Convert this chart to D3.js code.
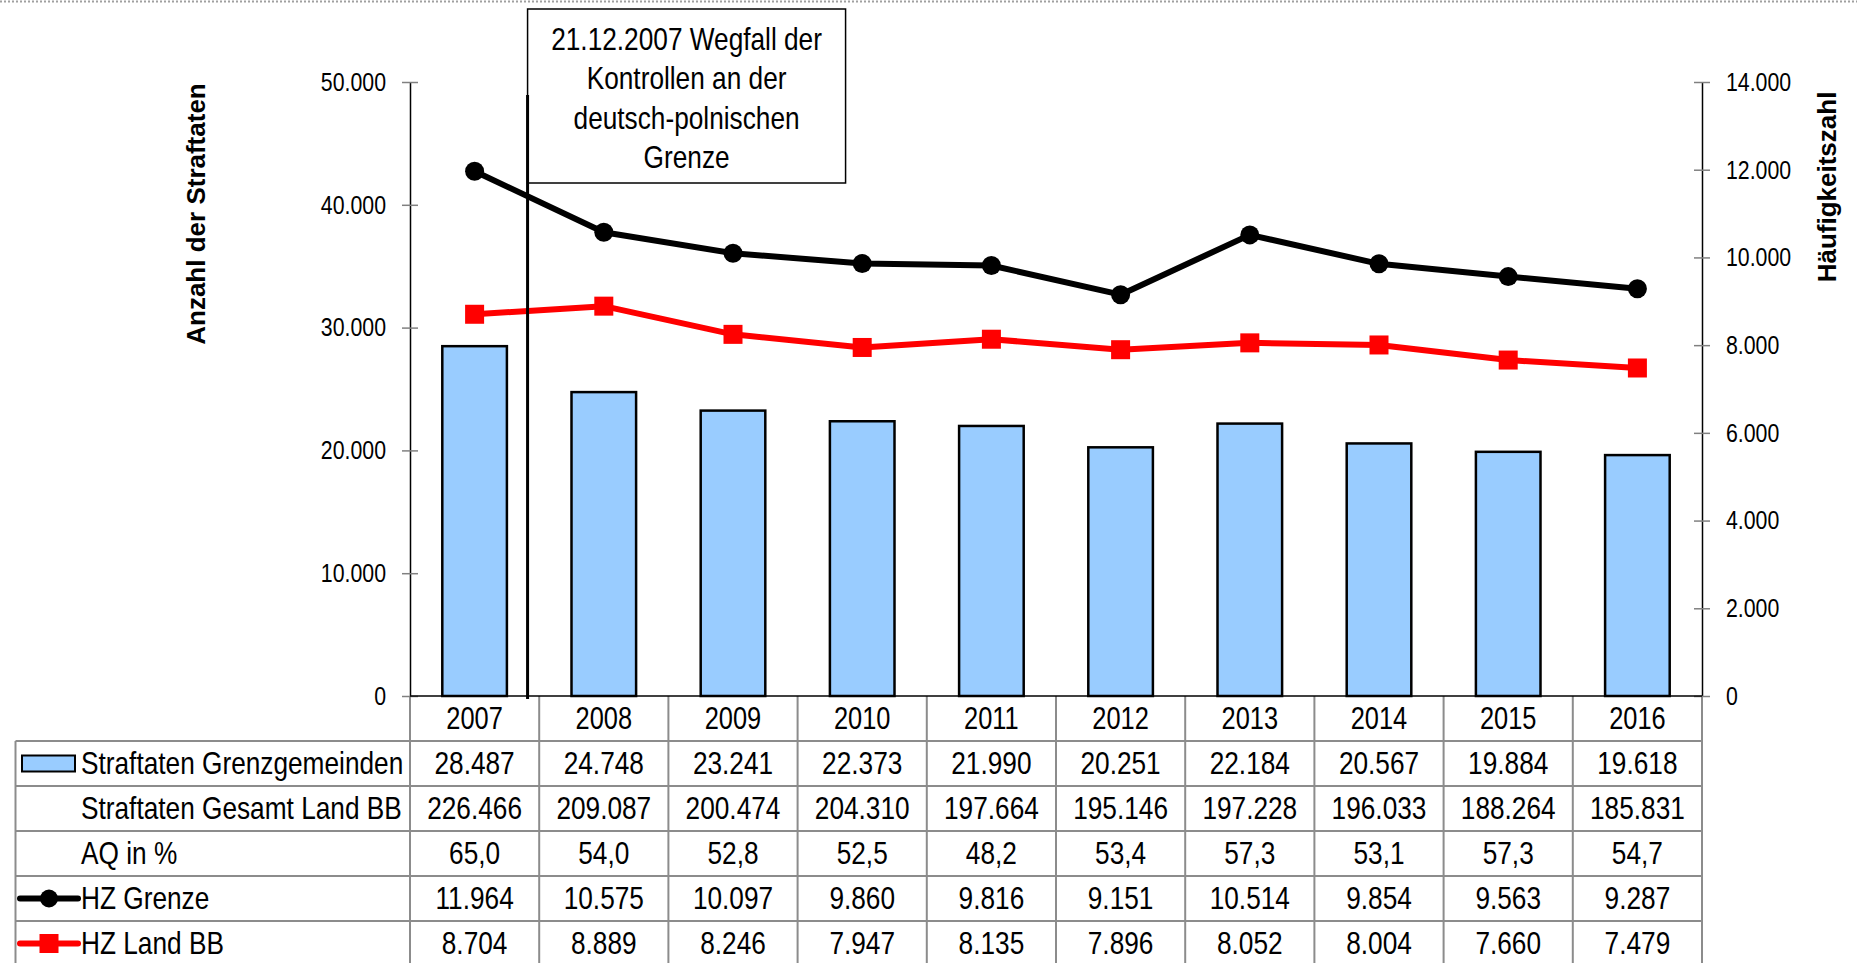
<!DOCTYPE html>
<html>
<head>
<meta charset="utf-8">
<script src="https://cdn.jsdelivr.net/npm/d3@7"></script>
<style>
  body { margin: 0; background: #fff; }
  svg { display: block; font-family: "Liberation Sans", Arial, sans-serif; }
</style>
</head>
<body>
<svg id="chart" width="1857" height="963"></svg>
<script>
// Daten
var years = ["2007", "2008", "2009", "2010", "2011", "2012", "2013", "2014", "2015", "2016"];
var straftatenGrenz = [28487, 24748, 23241, 22373, 21990, 20251, 22184, 20567, 19884, 19618];
var straftatenGesamt = [226466, 209087, 200474, 204310, 197664, 195146, 197228, 196033, 188264, 185831];
var aqProzent = [65.0, 54.0, 52.8, 52.5, 48.2, 53.4, 57.3, 53.1, 57.3, 54.7];
var hzGrenze = [11964, 10575, 10097, 9860, 9816, 9151, 10514, 9854, 9563, 9287];
var hzLand = [8704, 8889, 8246, 7947, 8135, 7896, 8052, 8004, 7660, 7479];
var leftTicks = [0, 10000, 20000, 30000, 40000, 50000];
var rightTicks = [0, 2000, 4000, 6000, 8000, 10000, 12000, 14000];
var rowLabels = ["Straftaten Grenzgemeinden", "Straftaten Gesamt Land BB", "AQ in %", "HZ Grenze", "HZ Land BB"];
var annotation = ["21.12.2007 Wegfall der", "Kontrollen an der", "deutsch-polnischen", "Grenze"];

var de = d3.formatLocale({ decimal: ",", thousands: ".", grouping: [3], currency: ["", " €"] });
var fmtInt = de.format(",d");
var fmtDec = de.format(".1f");

var svg = d3.select("#chart");
var NARROW = 0.82;
var gridColor = "#8c8c8c";

var left = 410, right = 1702, y0 = 696, yTop = 82;
var rowH = 45, tableLeft = 15.5;

var x = d3.scaleBand().domain(years).range([left, right]).paddingInner(0.5).paddingOuter(0.25);
var yL = d3.scaleLinear().domain([0, 50000]).range([y0, yTop]);
var yR = d3.scaleLinear().domain([0, 14000]).range([y0, yTop]);
var cx = function (d, i) { return x(years[i]) + x.bandwidth() / 2; };

// schmaler Text (Arial Narrow Ersatz)
function nText(g, px, py, str, size, anchor) {
    return g.append("g").attr("transform", "translate(" + px + "," + py + ") scale(" + NARROW + ",1)")
        .append("text")
        .attr("text-anchor", anchor)
        .attr("dominant-baseline", "central")
        .style("font-size", size + "px")
        .attr("fill", "#000")
        .text(str);
}

// gepunktete Linie oben
svg.append("line").attr("x1", 0).attr("x2", 1857).attr("y1", 1.5).attr("y2", 1.5)
    .attr("stroke", "#a0a0a0").attr("stroke-width", 2).attr("stroke-dasharray", "2,2");

// Tabelle
var table = svg.append("g");
var nRows = rowLabels.length;
for (var r = 0; r <= nRows; r++) {
    var yy = y0 + rowH * (r + 1);
    table.append("line").attr("x1", tableLeft).attr("x2", right).attr("y1", yy).attr("y2", yy)
        .attr("stroke", gridColor).attr("stroke-width", 2);
}
table.append("line").attr("x1", tableLeft).attr("x2", tableLeft).attr("y1", y0 + rowH).attr("y2", 963)
    .attr("stroke", gridColor).attr("stroke-width", 2);
for (var k = 0; k <= years.length; k++) {
    var xx = left + x.step() * k;
    table.append("line").attr("x1", xx).attr("x2", xx).attr("y1", y0).attr("y2", 963)
        .attr("stroke", gridColor).attr("stroke-width", 2);
}

years.forEach(function (yr, i) {
    nText(table, cx(yr, i), y0 + rowH / 2, yr, 31, "middle");
});
var rows = [
    straftatenGrenz.map(fmtInt),
    straftatenGesamt.map(fmtInt),
    aqProzent.map(fmtDec),
    hzGrenze.map(fmtInt),
    hzLand.map(fmtInt)
];
rows.forEach(function (vals, r) {
    var cy = y0 + rowH * (r + 1) + rowH / 2;
    nText(table, 81, cy, rowLabels[r], 32, "start");
    vals.forEach(function (v, i) {
        nText(table, cx(v, i), cy, v, 32, "middle");
    });
});

// Legendensymbole
var ly1 = y0 + rowH * 1.5;
table.append("rect").attr("x", 22).attr("y", ly1 - 8).attr("width", 53).attr("height", 16)
    .attr("fill", "#99ccff").attr("stroke", "#000").attr("stroke-width", 2);
var ly4 = y0 + rowH * 4.5;
table.append("line").attr("x1", 20).attr("x2", 78).attr("y1", ly4).attr("y2", ly4)
    .attr("stroke", "#000").attr("stroke-width", 6).attr("stroke-linecap", "round");
table.append("circle").attr("cx", 49).attr("cy", ly4).attr("r", 9).attr("fill", "#000");
var ly5 = y0 + rowH * 5.5;
table.append("line").attr("x1", 20).attr("x2", 78).attr("y1", ly5).attr("y2", ly5)
    .attr("stroke", "#ff0000").attr("stroke-width", 6).attr("stroke-linecap", "round");
table.append("rect").attr("x", 49 - 9.5).attr("y", ly5 - 9.5).attr("width", 19).attr("height", 19)
    .attr("fill", "#ff0000");

// Balken
svg.append("g").selectAll("rect").data(straftatenGrenz).join("rect")
    .attr("x", function (d, i) { return x(years[i]); })
    .attr("y", function (d) { return yL(d); })
    .attr("width", x.bandwidth())
    .attr("height", function (d) { return y0 - yL(d); })
    .attr("fill", "#99ccff").attr("stroke", "#000").attr("stroke-width", 2.5);

// Achsen
function styleAxis(g, sign) {
    g.select(".domain").attr("stroke", "#000").attr("stroke-width", 1.5);
    g.selectAll(".tick line").attr("x1", -8 * sign).attr("stroke", "#808080").attr("stroke-width", 1.5);
    g.selectAll(".tick text")
        .attr("x", function () { return +d3.select(this).attr("x") / NARROW; })
        .attr("transform", "scale(" + NARROW + ",1)")
        .style("font-size", "26px").attr("fill", "#000");
}
var axL = svg.append("g").attr("transform", "translate(" + left + ",0)")
    .call(d3.axisLeft(yL).tickValues(leftTicks).tickFormat(fmtInt).tickSize(8).tickSizeOuter(0).tickPadding(16));
styleAxis(axL, -1);
var axR = svg.append("g").attr("transform", "translate(" + right + ",0)")
    .call(d3.axisRight(yR).tickValues(rightTicks).tickFormat(fmtInt).tickSize(8).tickSizeOuter(0).tickPadding(16));
styleAxis(axR, 1);
svg.append("line").attr("x1", left).attr("x2", right).attr("y1", y0).attr("y2", y0)
    .attr("stroke", "#000").attr("stroke-width", 1.5);

// Achsentitel
svg.append("text").attr("transform", "translate(196,214) rotate(-90)")
    .attr("text-anchor", "middle").attr("dominant-baseline", "central")
    .style("font-size", "26px").style("font-weight", "bold").text("Anzahl der Straftaten");
svg.append("text").attr("transform", "translate(1827,187) rotate(-90)")
    .attr("text-anchor", "middle").attr("dominant-baseline", "central")
    .style("font-size", "26px").style("font-weight", "bold").text("Häufigkeitszahl");

// Linien
var lineG = d3.line().x(cx).y(function (d) { return yR(d); });
svg.append("path").datum(hzLand).attr("d", lineG)
    .attr("fill", "none").attr("stroke", "#ff0000").attr("stroke-width", 6).attr("stroke-linejoin", "round");
svg.append("g").selectAll("rect").data(hzLand).join("rect")
    .attr("x", function (d, i) { return cx(d, i) - 9.5; })
    .attr("y", function (d) { return yR(d) - 9.5; })
    .attr("width", 19).attr("height", 19).attr("fill", "#ff0000");
svg.append("path").datum(hzGrenze).attr("d", lineG)
    .attr("fill", "none").attr("stroke", "#000").attr("stroke-width", 6).attr("stroke-linejoin", "round");
svg.append("g").selectAll("circle").data(hzGrenze).join("circle")
    .attr("cx", cx).attr("cy", function (d) { return yR(d); })
    .attr("r", 9.5).attr("fill", "#000");

// Markierung 21.12.2007
var evX = x("2007") + x.step() * 0.66;
svg.append("rect").attr("x", evX).attr("y", 9).attr("width", 318).attr("height", 174)
    .attr("fill", "#fff").attr("stroke", "#000").attr("stroke-width", 1.5);
svg.append("line").attr("x1", evX).attr("x2", evX).attr("y1", 95).attr("y2", y0 + 3)
    .attr("stroke", "#000").attr("stroke-width", 3);
annotation.forEach(function (t, i) {
    nText(svg, evX + 159, 39 + i * 39.5, t, 32, "middle");
});
</script>
</body>
</html>
